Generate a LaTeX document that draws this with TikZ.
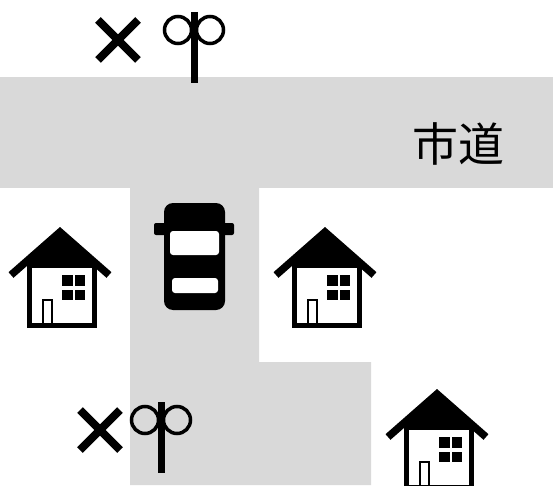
\documentclass[tikz,border=0pt]{standalone}
\usepackage{fontspec}
\newfontfamily\jpfont{Noto Sans CJK JP}
\definecolor{road}{HTML}{D9D9D9}
\begin{document}
\begin{tikzpicture}[x=1pt,y=-1pt,
  roadfill/.style={fill=road,draw=none},
  ink/.style={fill=black,draw=none},
  crossmark/.style={line width=8pt,line cap=butt},
  signstem/.style={line width=7pt,line cap=butt},
  signring/.style={line width=3.5pt},
  pics/house/.style={code={
    % roof: solid gable plus projecting eaves
    \fill (60,232) -- (22,265) -- (98,265) -- cycle;
    \draw[line width=7.5pt,line join=miter,line cap=butt] (11,275) -- (60,232) -- (109,275);
    % walls
    \draw[line width=5pt,fill=white] (29.5,265.5) rectangle (94.5,325.5);
    % windows
    \fill (62,275) rectangle (72.5,285.5);
    \fill (74.5,275) rectangle (85,285.5);
    \fill (62,289.5) rectangle (72.5,300);
    \fill (74.5,289.5) rectangle (85,300);
    % door
    \draw[line width=2pt] (43,326) -- (43,300) -- (52,300) -- (52,326);
  }},
  pics/lamp/.style={code={
    \draw[signring] (-16,18) circle (13.5);
    \draw[signring] (16,18) circle (13.5);
    \draw[signstem] (0,0) -- (0,71);
  }},
  pics/cross/.style={code={
    \draw[crossmark] (-20,-20) -- (20,20);
    \draw[crossmark] (-20,20) -- (20,-20);
  }}
]
\useasboundingbox (0,0) rectangle (553,486);
\fill[white] (0,0) rectangle (553,486);

% roads
\fill[roadfill] (0,77) rectangle (553,188);
\fill[roadfill] (130,188) -- (259,188) -- (259,362) -- (371,362) -- (371,485) -- (130,485) -- cycle;

% road name
\node (cityroad) at (458,144) {\jpfont\fontsize{46}{46}\selectfont 市道};

% houses
\pic (houseA) at (0,0) {house};
\pic (houseB) at (265,0) {house};
\begin{scope}
  \clip (0,0) rectangle (553,486);
  \pic (houseC) at (377,162) {house};
\end{scope}

% car seen from above
\fill[rounded corners=2pt] (154,223) rectangle (234,235);
\fill[rounded corners=9pt] (164,203) rectangle (225,310);
\fill[white,rounded corners=3pt] (170,231) rectangle (219,255);
\fill[white,rounded corners=3pt] (172,278) rectangle (218,293);

% crossed-out signs
\pic (crossTop) at (118,40) {cross};
\pic (lampTop) at (194,12) {lamp};
\pic (crossBottom) at (100,430) {cross};
\pic (lampBottom) at (161,402) {lamp};
\end{tikzpicture}
\end{document}
